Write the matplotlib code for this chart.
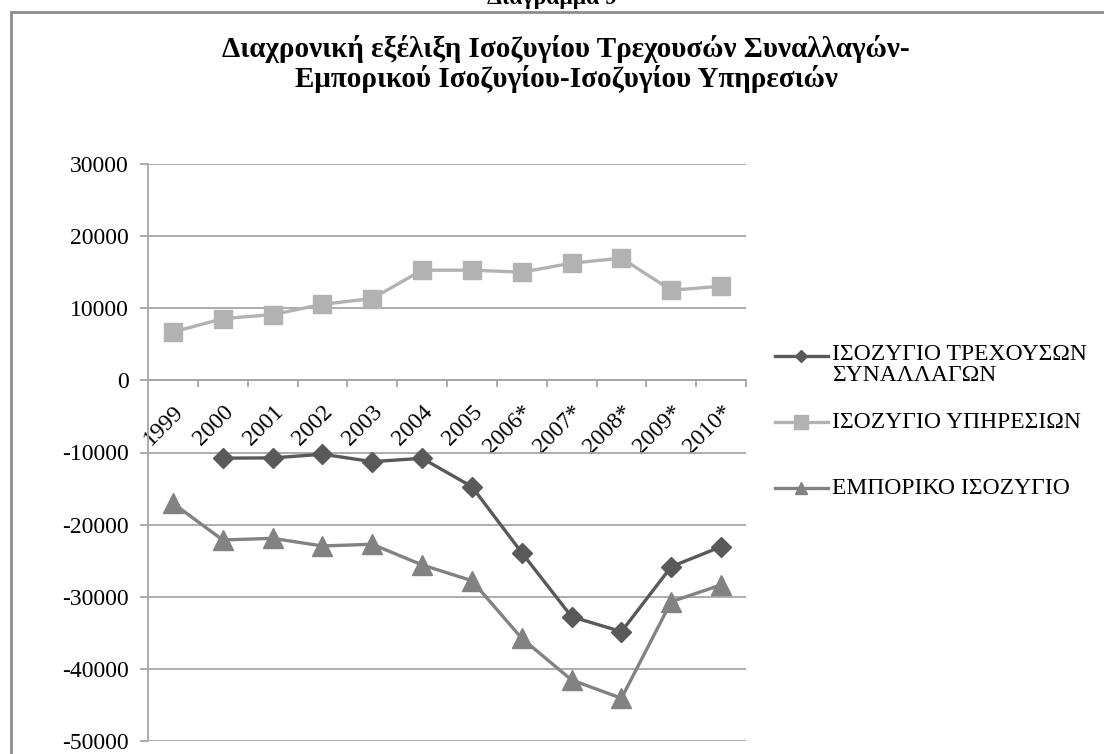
import matplotlib
matplotlib.use("Agg")
import matplotlib.pyplot as plt
from matplotlib.lines import Line2D
from matplotlib.patches import Rectangle
import numpy as np

# ---- data ----
years = ["1999", "2000", "2001", "2002", "2003", "2004", "2005",
         "2006*", "2007*", "2008*", "2009*", "2010*"]
isozygio_trexouson = [np.nan, -10780, -10750, -10240, -11270, -10800, -14740,
                      -23890, -32760, -34840, -25830, -23060]
isozygio_yphresion = [6700, 8560, 9120, 10550, 11350, 15280, 15280,
                      15000, 16250, 16950, 12500, 13050]
emporiko_isozygio = [-17040, -22130, -21900, -22960, -22720, -25590, -27770,
                     -35760, -41540, -44080, -30680, -28370]

labels = ["ΙΣΟΖΥΓΙΟ ΤΡΕΧΟΥΣΩΝ\nΣΥΝΑΛΛΑΓΩΝ", "ΙΣΟΖΥΓΙΟ ΥΠΗΡΕΣΙΩΝ", "ΕΜΠΟΡΙΚΟ ΙΣΟΖΥΓΙΟ"]
colors = ["#595959", "#B2B2B2", "#828282"]

plt.rcParams["font.family"] = ["Liberation Serif", "DejaVu Serif"]
plt.rcParams["axes.unicode_minus"] = False

W, H = 1104, 754
fig = plt.figure(figsize=(W / 100, H / 100), dpi=100)

def fx(px):
    return px / W

def fy(py):
    return 1 - py / H

# chart frame (cut off at right/bottom like the source)
fig.add_artist(Rectangle((fx(11), fy(1000)), 2, fy(12) - fy(1000),
                         transform=fig.transFigure, fill=False,
                         edgecolor="#8C8C8C", linewidth=2))

# caption above the frame, cut off at the top edge as in the source
fig.text(0.5, fy(4), "Διάγραμμα 9", ha="center", va="baseline",
         fontsize=17, fontweight="bold")

# title
fig.text(fx(566), fy(49), "Διαχρονική εξέλιξη Ισοζυγίου Τρεχουσών Συναλλαγών-",
         ha="center", va="center", fontsize=21, fontweight="bold")
fig.text(fx(566), fy(79), "Εμπορικού Ισοζυγίου-Ισοζυγίου Υπηρεσιών",
         ha="center", va="center", fontsize=21, fontweight="bold")

ax = fig.add_axes([fx(148), fy(741), fx(746) - fx(148), fy(164) - fy(741)])
x = np.arange(len(years))

ax.plot(x, isozygio_trexouson, color=colors[0], lw=2.4, marker="D", ms=10,
        clip_on=False, zorder=3)
ax.plot(x, isozygio_yphresion, color=colors[1], lw=2.4, marker="s", ms=13,
        clip_on=False, zorder=3)
ax.plot(x, emporiko_isozygio, color=colors[2], lw=2.4, marker="^", ms=14,
        clip_on=False, zorder=3)

ax.set_xlim(-0.5, len(years) - 0.5)
ax.set_ylim(-50000, 30000)
ax.set_yticks(np.arange(-50000, 30001, 10000))
ax.set_yticklabels([str(v) for v in range(-50000, 30001, 10000)], fontsize=17)
ax.grid(axis="y", color="#A6A6A6", lw=1.3)
ax.set_axisbelow(True)

for s in ["top", "right"]:
    ax.spines[s].set_visible(False)
ax.spines["left"].set_color("#A6A6A6")
ax.spines["left"].set_linewidth(1.3)
ax.spines["bottom"].set_position(("data", 0))
ax.spines["bottom"].set_color("#A6A6A6")
ax.spines["bottom"].set_linewidth(1.3)

# category boundaries get the tick marks, centres get the labels
ax.set_xticks(list(x[1:] - 0.5) + [len(years) - 0.5])
ax.set_xticklabels([])
ax.set_xticks(x, years, minor=True)
ax.tick_params(axis="x", which="major", direction="out", length=5,
               color="#A6A6A6", width=1.3)
ax.tick_params(axis="x", which="minor", length=0, pad=15, labelsize=17)
for t in ax.get_xticklabels(minor=True):
    t.set_rotation(45)
    t.set_ha("right")
    t.set_va("top")
    t.set_rotation_mode("anchor")
ax.tick_params(axis="y", direction="out", length=6, color="#A6A6A6",
               width=1.3, pad=8)

# legend drawn by hand so the first handle sits on the first text line
leg_y = [356, 422, 488]
leg_marker = [("D", 6), ("s", 10), ("^", 9)]
for lab, col, (mk, ms), yy in zip(labels, colors, leg_marker, leg_y):
    fig.add_artist(Line2D([fx(775), fx(801), fx(828)], [fy(yy)] * 3,
                          transform=fig.transFigure, color=col, lw=2.4,
                          marker=mk, ms=ms, markevery=[1]))
    if "\n" in lab:
        fig.text(fx(832), fy(yy - 12), lab, ha="left", va="top",
                 fontsize=17, linespacing=1.0)
    else:
        fig.text(fx(832), fy(yy), lab, ha="left", va="center", fontsize=17)

fig.savefig("out.png", dpi=100)
